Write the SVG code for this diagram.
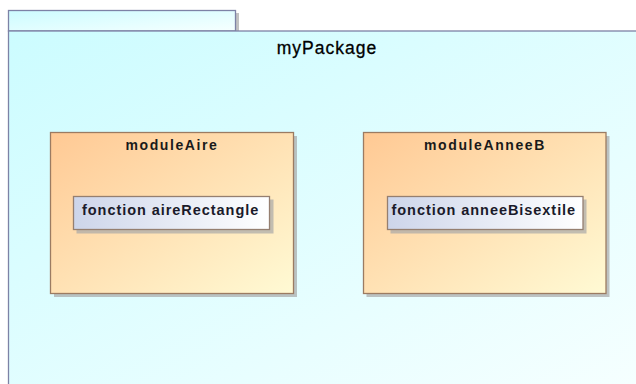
<svg xmlns="http://www.w3.org/2000/svg" width="636" height="384" viewBox="0 0 636 384">
  <defs>
    <linearGradient id="pkgFill" x1="0" y1="0" x2="1" y2="1">
      <stop offset="0" stop-color="#ccfcff"/>
      <stop offset="1" stop-color="#f6ffff"/>
    </linearGradient>
    <linearGradient id="modFill" x1="0" y1="0" x2="1" y2="1">
      <stop offset="0" stop-color="#ffc994"/>
      <stop offset="1" stop-color="#fffad4"/>
    </linearGradient>
    <linearGradient id="fnFill" x1="0" y1="0" x2="1" y2="0">
      <stop offset="0" stop-color="#cdd5ea"/>
      <stop offset="1" stop-color="#ffffff"/>
    </linearGradient>
    <style>
      .pkg { fill: url(#pkgFill); stroke: #7d82a6; stroke-width: 1.3; }
      .mod { fill: url(#modFill); stroke: #9b7b62; stroke-width: 1.3; }
      .fn { fill: url(#fnFill); stroke: #957f70; stroke-width: 1.3; }
      .shadow { fill: #a8a8a8; opacity: 0.7; }
      .title { font-family: "Liberation Sans", Arial, sans-serif; font-size: 17.5px; fill: #000; text-anchor: middle; letter-spacing: 1px; stroke: #000; stroke-width: 0.3; }
      .modTitle { font-family: "Liberation Sans", Arial, sans-serif; font-size: 14px; font-weight: bold; fill: #1a1a1a; text-anchor: middle; letter-spacing: 1.6px; }
      .fnLabel { font-family: "Liberation Sans", Arial, sans-serif; font-size: 14.5px; font-weight: bold; fill: #1a1a2a; letter-spacing: 0.95px; }
    </style>
  </defs>

  <!-- package (body runs past the right and bottom edges) -->
  <g id="myPackage">
    <rect class="shadow" x="236" y="13" width="3" height="18"/>
    <rect class="pkg" x="8.5" y="10.5" width="227" height="20.5"/>
    <rect class="pkg" x="8.5" y="31" width="640" height="360"/>
    <text class="title" x="327" y="53.5">myPackage</text>
  </g>

  <!-- module moduleAire -->
  <g id="moduleAire">
    <rect class="shadow" x="54" y="136" width="243" height="161"/>
    <rect class="mod" x="50.5" y="132.5" width="243" height="161"/>
    <text class="modTitle" x="172" y="150">moduleAire</text>
    <g id="aireRectangle">
      <rect class="shadow" x="76.5" y="199.5" width="197" height="34"/>
      <rect class="fn" x="73.5" y="196.5" width="196" height="33"/>
      <text class="fnLabel" x="82" y="214.5">fonction aireRectangle</text>
    </g>
  </g>

  <!-- module moduleAnneeB -->
  <g id="moduleAnneeB">
    <rect class="shadow" x="366.5" y="136" width="243" height="161"/>
    <rect class="mod" x="363.5" y="132.5" width="242.5" height="161"/>
    <text class="modTitle" x="485" y="150">moduleAnneeB</text>
    <g id="anneeBisextile">
      <rect class="shadow" x="390.5" y="199.5" width="196" height="34"/>
      <rect class="fn" x="387.5" y="196.5" width="195.5" height="33"/>
      <text class="fnLabel" x="391.5" y="214.5">fonction anneeBisextile</text>
    </g>
  </g>

  <!-- connectors: none -->
  <g id="connectors"/>
</svg>
